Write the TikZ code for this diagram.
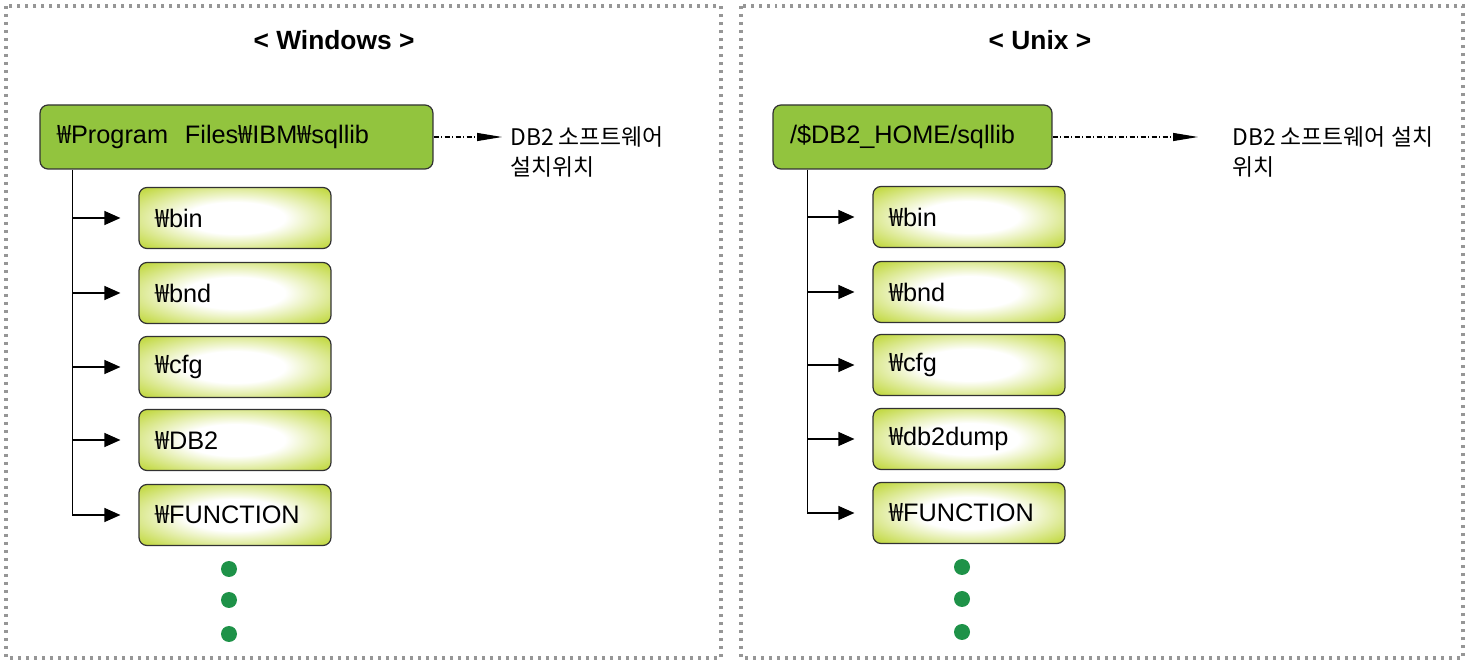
\documentclass[tikz,border=0pt]{standalone}
\usepackage{fontspec}
\setmainfont{Liberation Sans}
\newfontfamily\kr{Noto Sans CJK KR}
\usetikzlibrary{positioning, arrows.meta}

\newcommand{\won}{{\kr ₩}}
\definecolor{rootgreen}{RGB}{146,196,62}
\definecolor{leafgreen}{RGB}{196,218,72}
\definecolor{dotgreen}{RGB}{30,146,72}
\definecolor{framegray}{RGB}{150,150,150}
\definecolor{boxline}{RGB}{50,50,50}
\pgfdeclareradialshading{glow}{\pgfpoint{0bp}{0bp}}{color(0bp)=(white); color(13bp)=(white); color(33bp)=(leafgreen); color(50bp)=(leafgreen)}

\tikzset{
  frame/.style={draw=framegray, line width=0.07cm, dash pattern=on 0.06cm off 0.1cm},
  title/.style={font=\fontsize{15}{18}\selectfont\bfseries},
  root/.style={draw=boxline, fill=rootgreen, rounded corners=0.16cm, line width=0.7pt,
    minimum height=1.28cm, inner xsep=0.34cm, align=left, font=\fontsize{14.4}{17}\selectfont},
  leaf/.style={draw=boxline, shade, shading=glow, rounded corners=0.16cm, line width=0.7pt,
    minimum height=1.22cm, text width=3.2cm, inner xsep=0.32cm, align=left, font=\fontsize{14.4}{17}\selectfont},
  note/.style={inner sep=0pt, align=left, font=\kr\fontsize{13}{17}\selectfont},
  branch/.style={->, line width=0.7pt, shorten >=0.36cm},
  pointer/.style={-{Triangle[length=0.5cm, width=0.16cm]}, line width=0.6pt,
    dash pattern=on 0.1cm off 0.05cm on 0.02cm off 0.05cm},
}

\begin{document}
\begin{tikzpicture}[x=0.02cm, y=-0.02cm, >={Triangle[length=0.32cm, width=0.28cm]}]
  \useasboundingbox (0,0) rectangle (1471,661);

  % frames
  \draw[frame] (6,6) rectangle (721,658);
  \draw[frame] (741,6) rectangle (1463,658);

  % Windows
  \node[title] (win-title) at (334,40) {< Windows >};
  \node[root, text width=7.18cm] (win-root) at (236.5,137) {\won Program\ \ Files\won IBM\won sqllib};
  \node[note, anchor=north west] (win-note) at (510,126) {DB2 소프트웨어\\설치위치};
  \draw[pointer, shorten >=0.16cm] (win-root.east) -- (win-root.east -| win-note.west);
  \coordinate (win-trunk) at ([xshift=0.66cm]win-root.south west);
  \foreach [count=\i] \y/\txt in {218/bin, 293/bnd, 367/cfg, 440/DB2, 515/FUNCTION}
    \node[leaf] (win-\i) at (235,\y) {\won\txt};
  \draw[line width=0.7pt] (win-trunk) -- (win-trunk |- win-5.west);
  \foreach \i in {1,...,5}
    \draw[branch] (win-trunk |- win-\i.west) -- (win-\i.west);
  \foreach \y in {569,600,634}
    \fill[dotgreen] (229,\y) circle [radius=0.16cm];

  % Unix
  \node[title] (unix-title) at (1040,40) {< Unix >};
  \node[root, text width=4.9cm] (unix-root) at (912.5,137) {/\$DB2\_HOME/sqllib};
  \node[note, anchor=north west] (unix-note) at (1232,126) {DB2 소프트웨어 설치\\위치};
  \draw[pointer, shorten >=0.68cm] (unix-root.east) -- (unix-root.east -| unix-note.west);
  \coordinate (unix-trunk) at ([xshift=0.7cm]unix-root.south west);
  \foreach [count=\i] \y/\txt in {217/bin, 292/bnd, 365/cfg, 439/db2dump, 513/FUNCTION}
    \node[leaf] (unix-\i) at (969,\y) {\won\txt};
  \draw[line width=0.7pt] (unix-trunk) -- (unix-trunk |- unix-5.west);
  \foreach \i in {1,...,5}
    \draw[branch] (unix-trunk |- unix-\i.west) -- (unix-\i.west);
  \foreach \y in {567,599,632}
    \fill[dotgreen] (962,\y) circle [radius=0.16cm];
\end{tikzpicture}
\end{document}
